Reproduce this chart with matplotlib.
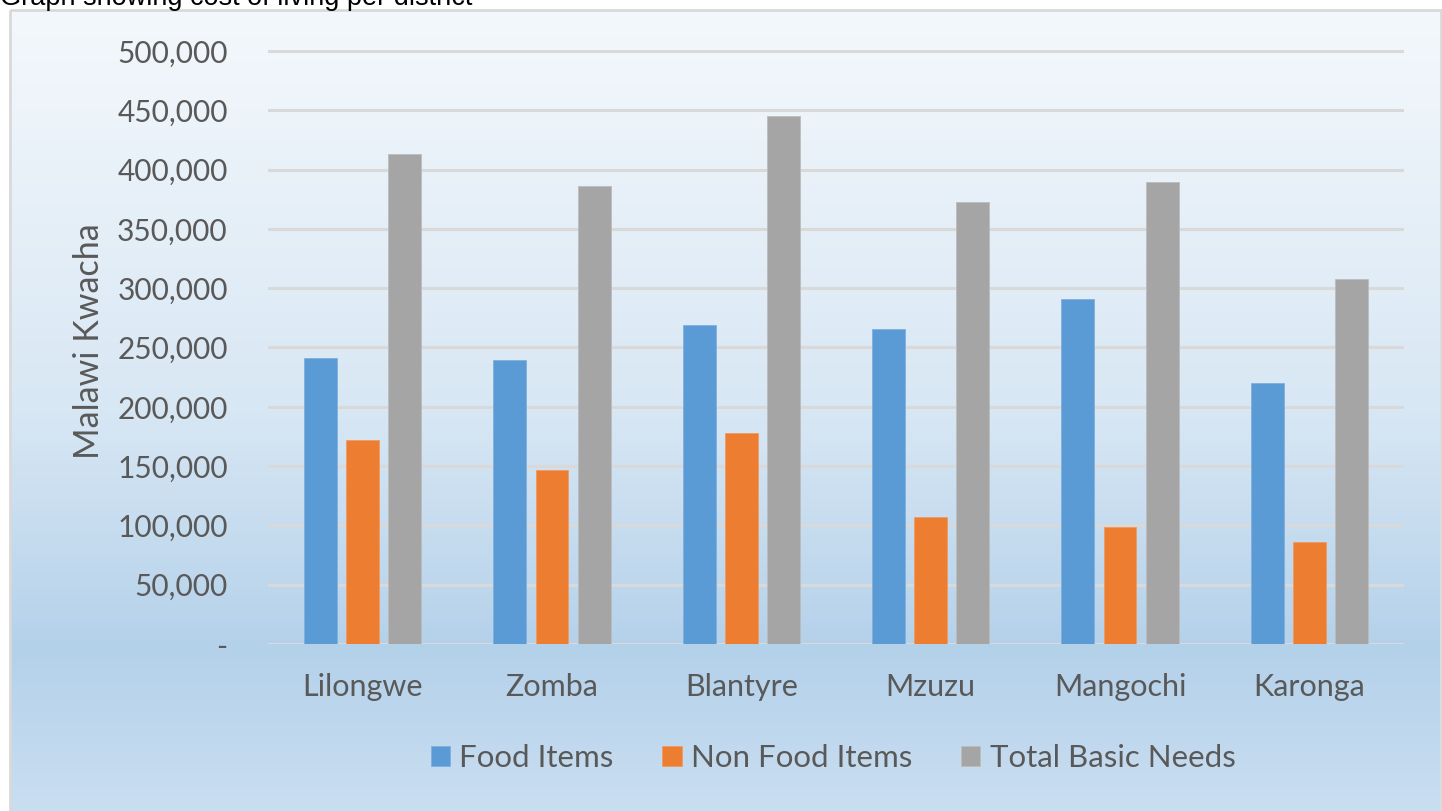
import numpy as np
import matplotlib
matplotlib.use("Agg")
from matplotlib import pyplot as plt
from matplotlib.colors import LinearSegmentedColormap
from matplotlib.patches import Rectangle
from matplotlib.ticker import FuncFormatter

districts = ["Lilongwe", "Zomba", "Blantyre", "Mzuzu", "Mangochi", "Karonga"]
food_items = [241000, 239500, 269000, 265500, 291000, 220000]
non_food_items = [172000, 147000, 178000, 107000, 98500, 86000]
total_basic_needs = [413000, 386000, 445000, 372500, 389500, 307500]
series_names = ["Food Items", "Non Food Items", "Total Basic Needs"]
y_ticks = [0, 50000, 100000, 150000, 200000, 250000, 300000, 350000, 400000, 450000, 500000]

W, H = 1442, 811
fig = plt.figure(figsize=(W / 100, H / 100), dpi=100)

# background gradient inside the chart border
bg = fig.add_axes([0, 0, 1, 1])
bg.set_xlim(0, W)
bg.set_ylim(H, 0)
bg.axis('off')
grad = LinearSegmentedColormap.from_list(
    "bg", [(0.0, "#f4f8fc"), (0.5, "#d8e7f4"), (0.8, "#b4d1ea"), (1.0, "#cadef1")])
g = np.linspace(0, 1, 256).reshape(-1, 1)
bg.imshow(g, cmap=grad, aspect='auto', extent=(11, W - 2, H, 11), zorder=0)
bg.add_patch(Rectangle((10, 10), W - 11, H, fill=False, ec="#d9d9d9", lw=2, zorder=1))

# title sits mostly above the picture, as in the original screenshot
fig.text(0, 1 - 5 / H, "Graph showing cost of living per district", family="Liberation Sans",
         fontsize=19.5, color="black", va="baseline", ha="left")

font = "Lato"
text_col = "#595959"

ymax = 510000
y0_px, px_per = 644, 593 / 500000
top_px = y0_px - ymax * px_per
ax = fig.add_axes([268 / W, 1 - y0_px / H, (1404 - 268) / W, (y0_px - top_px) / H])
ax.patch.set_alpha(0)

x = np.arange(len(districts))
off, bw = 0.222, 0.174
colors = ["#5b9bd5", "#ed7d31", "#a5a5a5"]
edges = ["#7fb0df", "#f09a60", "#bcbcbc"]
for i, vals in enumerate([food_items, non_food_items, total_basic_needs]):
    ax.bar(x + (i - 1) * off, vals, bw, color=colors[i], edgecolor=edges[i], lw=0.6,
           label=series_names[i], zorder=3)

ax.set_xlim(-0.5, len(districts) - 0.5)
ax.set_ylim(0, ymax)
ax.set_yticks(y_ticks)
ax.yaxis.set_major_formatter(FuncFormatter(lambda v, p: "-" if v == 0 else f"{int(v):,}"))
ax.set_xticks(x)
ax.set_xticklabels(districts)
ax.grid(axis='y', color="#d9d9d9", lw=2.2, zorder=1)
for s in ["top", "right", "left", "bottom"]:
    ax.spines[s].set_visible(False)
ax.tick_params(axis='y', length=0, labelsize=21.5, labelcolor=text_col, pad=29)
ax.tick_params(axis='x', length=0, labelsize=22, labelcolor=text_col, pad=21)
for lab in ax.get_xticklabels() + ax.get_yticklabels():
    lab.set_family(font)

ax.set_ylabel("Malawi Kwacha", family=font, fontsize=24.5, color=text_col, labelpad=9)

leg = fig.legend(loc="center", bbox_to_anchor=(833 / W, 1 - 758 / H), ncol=3, frameon=False,
                 prop={"family": font, "size": 22.5}, handlelength=0.62, handleheight=0.62,
                 handletextpad=0.3, columnspacing=1.55)
for t in leg.get_texts():
    t.set_color(text_col)

fig.savefig("out.png", dpi=100)
